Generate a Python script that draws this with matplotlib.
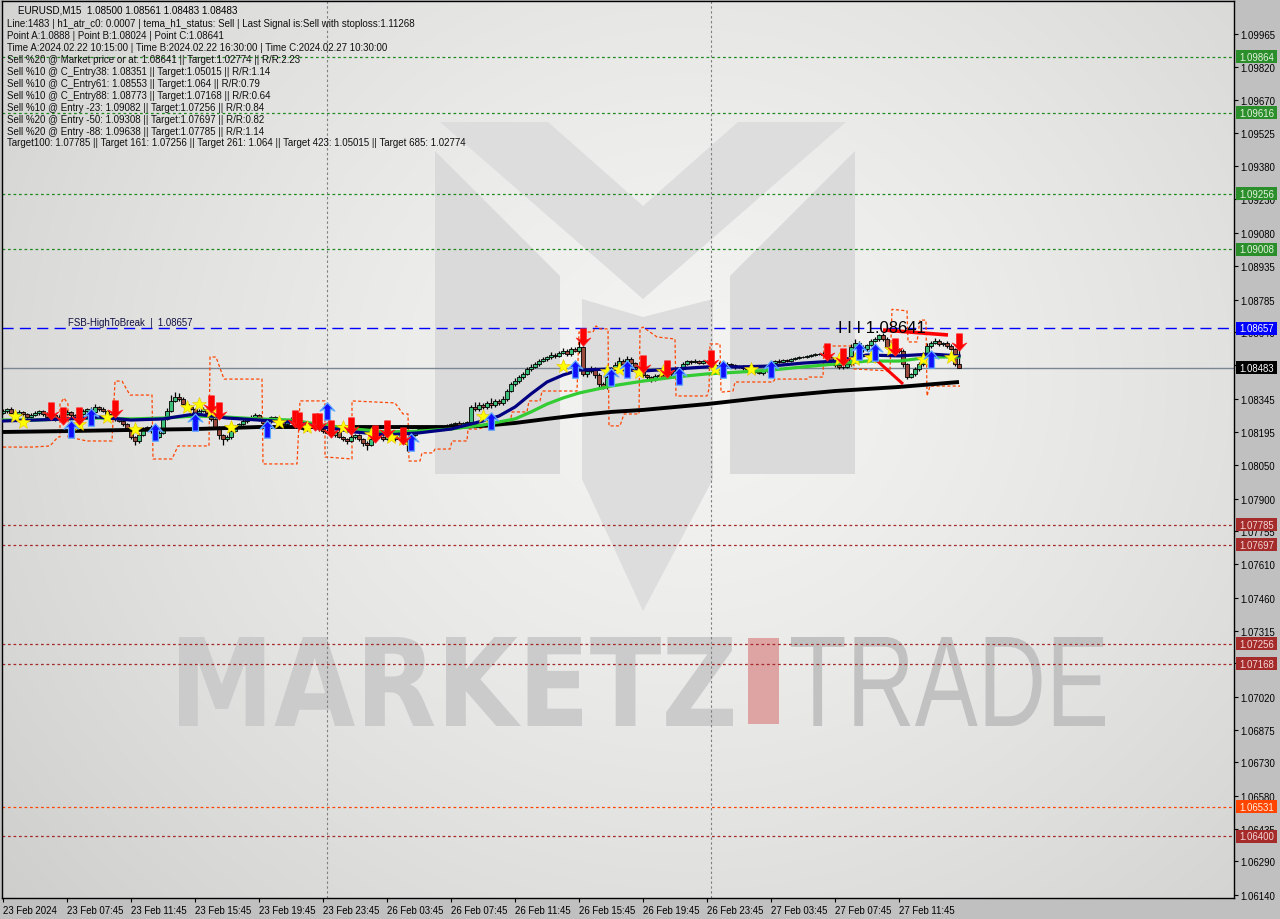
import numpy as np
import matplotlib
matplotlib.use("Agg")
import matplotlib.pyplot as plt
from matplotlib.patches import Polygon, Rectangle, PathPatch
from matplotlib.path import Path
from matplotlib.textpath import TextPath
from matplotlib.font_manager import FontProperties
from matplotlib.transforms import Affine2D, blended_transform_factory

plt.rcParams['font.family'] = ['Liberation Sans', 'DejaVu Sans']

# ---------------- data ----------------
symbol_line = "EURUSD,M15  1.08500 1.08561 1.08483 1.08483"
info_lines = [
    "Line:1483 | h1_atr_c0: 0.0007 | tema_h1_status: Sell | Last Signal is:Sell with stoploss:1.11268",
    "Point A:1.0888 | Point B:1.08024 | Point C:1.08641",
    "Time A:2024.02.22 10:15:00 | Time B:2024.02.22 16:30:00 | Time C:2024.02.27 10:30:00",
    "Sell %20 @ Market price or at: 1.08641 || Target:1.02774 || R/R:2.23",
    "Sell %10 @ C_Entry38: 1.08351 || Target:1.05015 || R/R:1.14",
    "Sell %10 @ C_Entry61: 1.08553 || Target:1.064 || R/R:0.79",
    "Sell %10 @ C_Entry88: 1.08773 || Target:1.07168 || R/R:0.64",
    "Sell %10 @ Entry -23: 1.09082 || Target:1.07256 || R/R:0.84",
    "Sell %20 @ Entry -50: 1.09308 || Target:1.07697 || R/R:0.82",
    "Sell %20 @ Entry -88: 1.09638 || Target:1.07785 || R/R:1.14",
    "Target100: 1.07785 || Target 161: 1.07256 || Target 261: 1.064 || Target 423: 1.05015 || Target 685: 1.02774",
]

x_tick_bars = [0, 16, 32, 48, 64, 80, 96, 112, 128, 144, 160, 176, 192, 208, 224]
x_tick_labels = ["23 Feb 2024", "23 Feb 07:45", "23 Feb 11:45", "23 Feb 15:45", "23 Feb 19:45",
                 "23 Feb 23:45", "26 Feb 03:45", "26 Feb 07:45", "26 Feb 11:45", "26 Feb 15:45",
                 "26 Feb 19:45", "26 Feb 23:45", "27 Feb 03:45", "27 Feb 07:45", "27 Feb 11:45"]
y_ticks = [1.09965, 1.09820, 1.09670, 1.09525, 1.09380, 1.09230, 1.09080, 1.08935, 1.08785,
           1.08640, 1.08495, 1.08345, 1.08195, 1.08050, 1.07900, 1.07755, 1.07610, 1.07460,
           1.07315, 1.07170, 1.07020, 1.06875, 1.06730, 1.06580, 1.06435, 1.06290, 1.06140]
y_min, y_max = 1.061267, 1.101116
separator_bars = [81, 177]

first_open = 1.08281
closes = [
    1.08290, 1.08299, 1.08281, 1.08272, 1.08286, 1.08277, 1.08263, 1.08272, 1.08281, 1.08290,
    1.08277, 1.08263, 1.08272, 1.08255, 1.08263, 1.08277, 1.08286, 1.08272, 1.08263, 1.08277,
    1.08290, 1.08299, 1.08286, 1.08308, 1.08299, 1.08290, 1.08277, 1.08263, 1.08255, 1.08246,
    1.08232, 1.08210, 1.08175, 1.08157, 1.08184, 1.08210, 1.08219, 1.08201, 1.08175, 1.08193,
    1.08255, 1.08290, 1.08335, 1.08353, 1.08343, 1.08321, 1.08308, 1.08299, 1.08281, 1.08290,
    1.08299, 1.08281, 1.08255, 1.08219, 1.08184, 1.08166, 1.08175, 1.08201, 1.08219, 1.08232,
    1.08246, 1.08255, 1.08263, 1.08272, 1.08255, 1.08237, 1.08246, 1.08263, 1.08255, 1.08241,
    1.08232, 1.08246, 1.08255, 1.08237, 1.08219, 1.08210, 1.08228, 1.08237, 1.08219, 1.08210,
    1.08201, 1.08193, 1.08184, 1.08197, 1.08175, 1.08166, 1.08157, 1.08175, 1.08184, 1.08166,
    1.08148, 1.08139, 1.08166, 1.08184, 1.08175, 1.08166, 1.08179, 1.08188, 1.08166, 1.08175,
    1.08157, 1.08144, 1.08184, 1.08201, 1.08210, 1.08206, 1.08215, 1.08210, 1.08219, 1.08215,
    1.08219, 1.08228, 1.08232, 1.08237, 1.08228, 1.08237, 1.08241, 1.08308, 1.08299, 1.08317,
    1.08308, 1.08326, 1.08317, 1.08335, 1.08326, 1.08343, 1.08379, 1.08410, 1.08423, 1.08441,
    1.08455, 1.08477, 1.08486, 1.08499, 1.08512, 1.08521, 1.08530, 1.08539, 1.08535, 1.08548,
    1.08557, 1.08543, 1.08566, 1.08557, 1.08574, 1.08455, 1.08468, 1.08477, 1.08450, 1.08410,
    1.08397, 1.08441, 1.08477, 1.08495, 1.08512, 1.08499, 1.08521, 1.08503, 1.08486, 1.08468,
    1.08450, 1.08441, 1.08432, 1.08446, 1.08450, 1.08441, 1.08455, 1.08459, 1.08468, 1.08477,
    1.08499, 1.08512, 1.08508, 1.08512, 1.08503, 1.08512, 1.08508, 1.08495, 1.08477, 1.08486,
    1.08495, 1.08499, 1.08495, 1.08486, 1.08490, 1.08481, 1.08477, 1.08468, 1.08463, 1.08459,
    1.08468, 1.08486, 1.08503, 1.08512, 1.08508, 1.08517, 1.08512, 1.08521, 1.08526, 1.08530,
    1.08530, 1.08535, 1.08539, 1.08543, 1.08543, 1.08539, 1.08530, 1.08512, 1.08495, 1.08486,
    1.08486, 1.08499, 1.08574, 1.08592, 1.08574, 1.08566, 1.08583, 1.08601, 1.08610, 1.08628,
    1.08610, 1.08574, 1.08579, 1.08566, 1.08557, 1.08499, 1.08441, 1.08455, 1.08477, 1.08499,
    1.08543, 1.08579, 1.08592, 1.08601, 1.08588, 1.08592, 1.08579, 1.08566, 1.08500, 1.08483,
]
# wick lengths in pips (0.0001)
up_wick_pips = [
    1, 0.5, 1, 0.5, 1, 0.5, 0.5, 1, 1, 0.5,
    0.5, 1, 0.5, 0.5, 1, 0.5, 1, 0.5, 0.5, 1,
    1, 0.5, 1, 1.5, 0.5, 1, 0.5, 0.5, 0.5, 1,
    0.5, 0.5, 0.5, 0.5, 1, 1, 0.5, 1, 0.5, 1,
    1, 1.5, 2.5, 2, 1.5, 1, 0.5, 1, 0.5, 1,
    1, 0.5, 0.5, 0.5, 0.5, 0.5, 1, 0.5, 1, 0.5,
    1, 0.5, 1, 1, 0.5, 0.5, 1, 0.5, 0.5, 1,
    0.5, 0.5, 1, 0.5, 0.5, 1, 0.5, 0.5, 0.5, 0.5,
    0.5, 1, 0.5, 0.5, 1, 0.5, 0.5, 1, 0.5, 0.5,
    0.5, 1, 1.5, 0.5, 0.5, 0.5, 0.5, 1, 0.5, 0.5,
    0.5, 0.5, 1, 0.5, 0.5, 1, 0.5, 0.5, 1, 0.5,
    0.5, 0.5, 0.5, 0.5, 1, 0.5, 0.5, 1, 2, 1.5,
    1, 1, 2, 1, 1, 1.5, 1, 1, 1.5, 1,
    1, 1, 1.5, 1, 1, 1, 0.5, 1.5, 1, 1,
    1.5, 1, 1, 1, 2.5, 0.5, 1, 1.5, 1, 1,
    1, 1.5, 1, 1.5, 2, 1, 1.5, 1, 0.5, 1,
    1, 0.5, 0.5, 1, 0.5, 1, 1, 0.5, 1, 1,
    1, 0.5, 0.5, 1, 0.5, 0.5, 0.5, 0.5, 0.5, 2,
    0.5, 1, 0.5, 0.5, 0.5, 0.5, 0.5, 0.5, 0.5, 0.5,
    0.5, 0.5, 0.5, 0.5, 1, 0.5, 0.5, 0.5, 0.5, 0.5,
    0.5, 0.5, 0.5, 0.5, 0.5, 1, 0.5, 0.5, 0.5, 1,
    0.5, 1, 1.5, 2, 1, 1, 0.5, 1, 1, 0.6,
    1, 1, 1.5, 1, 0.5, 1, 0.5, 0.5, 1, 1,
    1, 1.5, 1, 1.5, 1, 0.5, 1, 1, 0.5, 6.1,
]
dn_wick_pips = [
    0.5, 1, 0.5, 1, 0.5, 1, 1, 0.5, 0.5, 1,
    1, 0.5, 1, 1, 0.5, 1, 0.5, 1, 1, 0.5,
    0.5, 1, 0.5, 0.5, 1, 0.5, 1, 1, 1, 0.5,
    1, 1, 1, 2, 1, 0.5, 1, 1, 1.5, 0.5,
    0.5, 0.5, 0.5, 0.5, 1, 0.5, 1, 0.5, 1, 0.5,
    0.5, 1, 1, 1, 2, 2.5, 1, 1, 0.5, 0.5,
    0.5, 1, 0.5, 0.5, 1, 1, 0.5, 1, 1, 0.5,
    1, 0.5, 0.5, 1, 1, 0.5, 1, 0.5, 1, 1,
    1, 0.5, 1, 1, 0.5, 1, 1.5, 0.5, 1, 1,
    1.5, 2, 0.5, 1, 0.5, 1, 0.5, 1, 1, 0.5,
    1.5, 3, 1, 0.5, 0.5, 0.5, 1, 0.5, 0.5, 0.5,
    0.5, 0.5, 0.5, 0.5, 0.5, 0.5, 1, 0.5, 1, 1,
    1, 1, 1.5, 1, 1, 1, 1, 0.5, 1, 1,
    1, 0.5, 1, 0.5, 1, 0.5, 1, 1, 1, 0.5,
    0.5, 1, 1, 0.5, 1, 1, 1.5, 1, 1.5, 1.5,
    1, 1, 1, 0.5, 1, 1, 0.5, 1, 1, 0.5,
    1, 1, 1.5, 1, 0.5, 1, 0.5, 1, 0.5, 0.5,
    0.5, 0.5, 1, 0.5, 0.5, 0.5, 0.5, 0.5, 1, 0.5,
    0.5, 0.5, 0.5, 1, 0.5, 1, 0.5, 0.5, 0.5, 0.5,
    1, 0.5, 0.5, 0.5, 0.5, 0.5, 0.5, 0.5, 0.5, 0.5,
    0.5, 0.5, 0.5, 0.5, 0.5, 0.5, 1, 1, 1, 1,
    1, 0.5, 1, 1, 1, 1.5, 1, 0.5, 0.5, 1,
    1, 1, 1, 1, 1, 1.5, 1, 0.5, 1, 1,
    1, 0.5, 1, 0.5, 1, 1, 1, 0.5, 1, 0,
]

# moving averages (bar index, price)
blue_bars = [0, 8, 16, 24, 32, 40, 48, 56, 64, 72, 80, 88, 96, 104, 112, 120, 124, 128, 132,
             136, 140, 144, 152, 160, 168, 176, 184, 192, 200, 208, 216, 224, 232, 239]
blue_vals = [1.08246, 1.08250, 1.08255, 1.08263, 1.08250, 1.08255, 1.08277, 1.08259, 1.08250,
             1.08241, 1.08219, 1.08197, 1.08184, 1.08193, 1.08210, 1.08246, 1.08268, 1.08308,
             1.08366, 1.08419, 1.08450, 1.08472, 1.08477, 1.08468, 1.08477, 1.08486, 1.08486,
             1.08490, 1.08503, 1.08512, 1.08539, 1.08535, 1.08543, 1.08535]
green_bars = [0, 8, 16, 24, 32, 40, 48, 56, 64, 72, 80, 88, 96, 104, 112, 120, 128, 132, 136,
              140, 144, 152, 160, 168, 176, 184, 192, 200, 208, 216, 224, 232, 239]
green_vals = [1.08250, 1.08250, 1.08255, 1.08259, 1.08255, 1.08259, 1.08268, 1.08263, 1.08255,
              1.08250, 1.08228, 1.08210, 1.08197, 1.08201, 1.08210, 1.08228, 1.08255, 1.08286,
              1.08321, 1.08348, 1.08370, 1.08401, 1.08423, 1.08441, 1.08455, 1.08463, 1.08472,
              1.08486, 1.08499, 1.08512, 1.08512, 1.08530, 1.08530]
black_bars = [0, 16, 32, 48, 64, 80, 96, 112, 120, 128, 136, 144, 152, 160, 176, 192, 208, 224, 239]
black_vals = [1.08197, 1.08201, 1.08206, 1.08210, 1.08219, 1.08219, 1.08219, 1.08219, 1.08224,
              1.08237, 1.08255, 1.08272, 1.08286, 1.08295, 1.08321, 1.08353, 1.08379, 1.08397,
              1.08419]

# stepped orange envelope (bar index, price)
band_bars = [0, 7.5, 11.75, 13.75, 14.25, 14.25, 15.25, 16.25, 16.25, 21, 27.25, 28, 29.75,
             31.75, 37.25, 37.5, 42.25, 43.75, 51.5, 51.75, 53.25, 55.25, 64.75, 65, 73.5,
             74.25, 80.5, 80.5, 87.25, 87.25, 98, 100, 101.25, 101.5, 104.25, 104.75, 107.5,
             108, 111.75, 112.25, 116, 116.25, 118.5, 124.25, 126.75, 127.25, 131, 131.5,
             134.25, 134.75, 143.5, 144, 147.5, 148.25, 149.25, 151.25, 151.5, 154.25, 155.25,
             159, 159.25, 160, 163.5, 168, 168.25, 176, 176.5, 176.75, 179.25, 179.5, 182.5,
             183, 192.5, 193, 201, 201.5, 205, 205.25, 212.5, 212.75, 221.75, 222.25, 226,
             226.25, 228.5, 229.25, 230.75, 231, 231.75, 239.25]
band_vals = [1.08130, 1.08130, 1.08135, 1.08175, 1.08175, 1.08321, 1.08348, 1.08321, 1.08175,
             1.08157, 1.08157, 1.08423, 1.08423, 1.08361, 1.08361, 1.08077, 1.08077, 1.08135,
             1.08135, 1.08530, 1.08530, 1.08432, 1.08432, 1.08055, 1.08055, 1.08335, 1.08335,
             1.08086, 1.08077, 1.08335, 1.08326, 1.08277, 1.08277, 1.08068, 1.08068, 1.08104,
             1.08104, 1.08121, 1.08121, 1.08157, 1.08157, 1.08210, 1.08210, 1.08232, 1.08232,
             1.08286, 1.08286, 1.08335, 1.08335, 1.08379, 1.08379, 1.08641, 1.08641, 1.08668,
             1.08655, 1.08655, 1.08224, 1.08224, 1.08277, 1.08277, 1.08655, 1.08663, 1.08619,
             1.08610, 1.08357, 1.08357, 1.08388, 1.08588, 1.08588, 1.08374, 1.08379, 1.08419,
             1.08419, 1.08432, 1.08432, 1.08441, 1.08441, 1.08579, 1.08579, 1.08477, 1.08468,
             1.08742, 1.08735, 1.08597, 1.08597, 1.08694, 1.08694, 1.08357, 1.08401, 1.08401]

# signals
sell_bars = [12, 15, 19, 28, 52, 54, 73, 74, 78, 79, 82, 87, 93, 96, 100, 145, 160, 166, 177,
             206, 210, 223, 239]
sell_vals = [1.08290, 1.08268, 1.08268, 1.08299, 1.08321, 1.08290, 1.08255, 1.08246, 1.08241,
             1.08241, 1.08210, 1.08224, 1.08188, 1.08210, 1.08179, 1.08619, 1.08499, 1.08477,
             1.08521, 1.08552, 1.08530, 1.08574, 1.08597]
buy_bars = [17, 22, 38, 48, 66, 81, 102, 122, 143, 152, 156, 169, 180, 192, 214, 218, 232]
buy_vals = [1.08210, 1.08263, 1.08197, 1.08241, 1.08210, 1.08290, 1.08153, 1.08246, 1.08477,
            1.08441, 1.08477, 1.08446, 1.08477, 1.08477, 1.08557, 1.08552, 1.08521]
star_bars = [3, 5, 19, 26, 33, 46, 49, 52, 57, 69, 76, 85, 92, 97, 100, 120, 140, 151, 154,
             159, 165, 178, 187, 209, 213, 217, 222, 230, 237]
star_vals = [1.08268, 1.08241, 1.08232, 1.08263, 1.08210, 1.08308, 1.08321, 1.08290, 1.08219,
             1.08241, 1.08219, 1.08219, 1.08188, 1.08175, 1.08166, 1.08268, 1.08490, 1.08468,
             1.08477, 1.08463, 1.08468, 1.08477, 1.08477, 1.08521, 1.08521, 1.08530, 1.08566,
             1.08521, 1.08530]

# pattern lines
pattern_top_bars = [220, 236.25]
pattern_top_vals = [1.08650, 1.08628]
pattern_leg_bars = [217.5, 225]
pattern_leg_vals = [1.08530, 1.08410]
point_c_bar, point_c_price = 208.75, 1.08641

# horizontal levels
green_levels = [1.09864, 1.09616, 1.09256, 1.09008]
red_levels = [1.07785, 1.07697, 1.07256, 1.07168, 1.06400]
orange_levels = [1.06531]
fsb_level = 1.08657
bid_level = 1.08483

# ---------------- layout ----------------
W, H = 1280, 920
AX_L, AX_R, AX_T, AX_B = 2, 1234, 2, 899

fig = plt.figure(figsize=(W / 100, H / 100), dpi=100, facecolor='#c0c0c0')
ax = fig.add_axes([AX_L / W, (H - AX_B) / H, (AX_R - AX_L) / W, (AX_B - AX_T) / H])
ax.set_facecolor('#dcdcdc')
n_bars = len(closes)
x_lo, x_hi = -0.25, 307.75


def pa(x, y):
    return (x - AX_L) / (AX_R - AX_L), (AX_B - y) / (AX_B - AX_T)


# background gradient
ny, nx = 240, 330
yy, xx = np.mgrid[0:ny, 0:nx]
gx = AX_L + xx / (nx - 1) * (AX_R - AX_L)
gy = AX_T + yy / (ny - 1) * (AX_B - AX_T)
r = np.hypot(gx - 690, (gy - 380) * 1.1) / 800.0
v = 0.955 - 0.125 * np.clip(r, 0, 1.4) ** 1.4
img = np.dstack([v, v, v * 0.995])
ax.imshow(img, extent=[0, 1, 0, 1], transform=ax.transAxes, origin='upper',
          aspect='auto', zorder=0, interpolation='bilinear')

# watermark logo
logo = [
    ([(440, 123), (548, 123), (643, 207), (738, 123), (846, 123), (643, 300)], '#dddddd'),
    ([(435, 152), (560, 277), (560, 475), (435, 475)], '#dadada'),
    ([(730, 277), (855, 152), (855, 475), (730, 475)], '#dadada'),
    ([(582, 300), (643, 318), (713, 300), (713, 480), (643, 612), (582, 480)], '#dddddd'),
]
for pts, col in logo:
    ax.add_patch(Polygon([pa(*p) for p in pts], closed=True, transform=ax.transAxes,
                         facecolor=col, edgecolor='none', zorder=0.5))


def fit_text(s, x0, y0, x1, y1, fp, color):
    tp = TextPath((0, 0), s, prop=fp, size=100)
    ext = tp.get_extents()
    ax0, ay1 = pa(x0, y0)
    ax1, ay0 = pa(x1, y1)
    tr = Affine2D().translate(-ext.x0, -ext.y0).scale((ax1 - ax0) / ext.width,
                                                      (ay1 - ay0) / ext.height).translate(ax0, ay0)
    ax.add_patch(PathPatch(tr.transform_path(tp), transform=ax.transAxes,
                           facecolor=color, edgecolor='none', zorder=0.6))


fit_text("MARKETZ", 179, 638, 733, 727, FontProperties(family='DejaVu Sans', weight='bold'), '#cbcbcb')
fit_text("TRADE", 791, 638, 1105, 727, FontProperties(family='Liberation Sans', weight='normal'), '#c1c1c1')
bx0, by1 = pa(748, 639)
bx1, by0 = pa(779, 725)
ax.add_patch(Rectangle((bx0, by0), bx1 - bx0, by1 - by0, transform=ax.transAxes,
                       facecolor='#dea3a3', edgecolor='none', zorder=0.6))

# horizontal levels
for lv in green_levels:
    ax.axhline(lv, color='#1f8a1f', lw=0.9, ls=(0, (2.2, 2.2)), zorder=1)
for lv in red_levels:
    ax.axhline(lv, color='#a52a2a', lw=0.9, ls=(0, (2.2, 2.2)), zorder=1)
for lv in orange_levels:
    ax.axhline(lv, color='#ff4500', lw=0.9, ls=(0, (2.2, 2.2)), zorder=1)
ax.axhline(fsb_level, color='#0000ff', lw=1.0, ls=(0, (8, 4.5)), zorder=1)
ax.axhline(bid_level, color='#7a8694', lw=1.0, zorder=1)
for sb in separator_bars:
    ax.axvline(sb, color='#808080', lw=0.8, ls=(0, (2.2, 2.2)), zorder=1)

# orange band
ax.plot(band_bars, band_vals, color='#ff4500', lw=0.9, ls=(0, (2.5, 1.8)), zorder=1.5)

# candles
c = np.array(closes)
o = np.concatenate([[first_open], c[:-1]])
o[-1] = 1.08500
h = np.maximum(o, c) + np.array(up_wick_pips) * 1e-4
l = np.minimum(o, c) - np.array(dn_wick_pips) * 1e-4
xs = np.arange(n_bars)
ax.vlines(xs, l, h, color='black', lw=0.9, zorder=2)
bull = c >= o
body = np.where(np.abs(c - o) < 2e-6, 2e-6, c - o)
ax.bar(xs[bull], body[bull], bottom=o[bull], width=0.78, color='#3cc07a',
       edgecolor='black', lw=0.6, zorder=2.1)
ax.bar(xs[~bull], body[~bull], bottom=o[~bull], width=0.78, color='#9a4a3c',
       edgecolor='black', lw=0.6, zorder=2.1)

# moving averages
ax.plot(black_bars, black_vals, color='black', lw=2.8, zorder=3, solid_capstyle='butt')
ax.plot(green_bars, green_vals, color='#33cc33', lw=2.3, zorder=3.1)
ax.plot(blue_bars, blue_vals, color='#000080', lw=2.3, zorder=3.2)

# pattern lines
ax.plot(pattern_top_bars, pattern_top_vals, color='#ff0000', lw=2.6, zorder=3.5, solid_capstyle='butt')
ax.plot(pattern_leg_bars, pattern_leg_vals, color='#ff0000', lw=2.2, zorder=3.5, solid_capstyle='butt')
ax.text(point_c_bar, point_c_price, "I I I 1.08641", fontsize=12, color='black',
        ha='left', va='baseline', zorder=5, family='Liberation Sans')

# signal markers
up_verts = [(0, 1), (0.85, 0.05), (0.34, 0.28), (0.34, -1), (-0.34, -1), (-0.34, 0.28), (-0.85, 0.05), (0, 1)]
codes = [Path.MOVETO] + [Path.LINETO] * 6 + [Path.CLOSEPOLY]
up_arrow = Path(up_verts, codes)
down_arrow = Path([(x, -y) for x, y in up_verts], codes)
ax.plot(star_bars, star_vals, ls='none', marker='*', ms=10.5, mfc='#ffff00', mec='#e8c000', mew=0.4, zorder=4)
ax.plot(buy_bars, buy_vals, ls='none', marker=up_arrow, ms=12.5, mfc='#1010ff', mec='#5fa8ff', mew=0.9, zorder=4.2)
ax.plot(sell_bars, sell_vals, ls='none', marker=down_arrow, ms=12.5, mfc='#ff0000', mec='#ff2020', mew=0.5, zorder=4.3)

# FSB label
ax.text(16.25, fsb_level + 0.00006, "FSB-HighToBreak  |  1.08657", fontsize=6.9, color='#101040',
        ha='left', va='bottom', zorder=5)

# axes setup
ax.set_xlim(x_lo, x_hi)
ax.set_ylim(y_min, y_max)
ax.yaxis.tick_right()
ax.set_yticks(y_ticks)
ax.set_yticklabels([f"{t:.5f}" for t in y_ticks])
ax.set_xticks(x_tick_bars)
ax.set_xticklabels(x_tick_labels)
for lbl in ax.get_xticklabels():
    lbl.set_ha('left')
ax.tick_params(axis='y', direction='out', length=3, width=0.8, pad=1.5, labelsize=6.9, colors='black')
ax.tick_params(axis='x', direction='out', length=3, width=0.8, pad=2, labelsize=6.9, colors='black')
for s in ax.spines.values():
    s.set_color('black')
    s.set_linewidth(1.0)

# price label boxes on the right
bt = blended_transform_factory(fig.transFigure, ax.transData)
box_h = 13 * (y_max - y_min) / (AX_B - AX_T)
specs = [(lv, '#2a8f2a', '#e6f2e0') for lv in green_levels]
specs += [(lv, '#a52a2a', '#f4d8d8') for lv in red_levels]
specs += [(lv, '#ff4500', '#fff0e0') for lv in orange_levels]
specs += [(fsb_level, '#0000ff', 'white'), (bid_level, 'black', 'white')]
for lv, fc, tc in specs:
    ax.add_patch(Rectangle((1236 / W, lv - box_h / 2), 41 / W, box_h, transform=bt,
                           facecolor=fc, edgecolor='none', clip_on=False, zorder=10))
    ax.text(1239.5 / W, lv, f"{lv:.5f}", transform=bt, fontsize=6.9, color=tc,
            ha='left', va='center', clip_on=False, zorder=11)

# header text
fig.text(18 / W, 1 - 10.5 / H, symbol_line, fontsize=7.1, color='black', ha='left', va='center')
for k, line in enumerate(info_lines):
    fig.text(7 / W, 1 - (24 + 11.95 * k) / H, line, fontsize=7.0, color='#101010',
             ha='left', va='center')

fig.savefig("out.png", dpi=100, facecolor=fig.get_facecolor())
